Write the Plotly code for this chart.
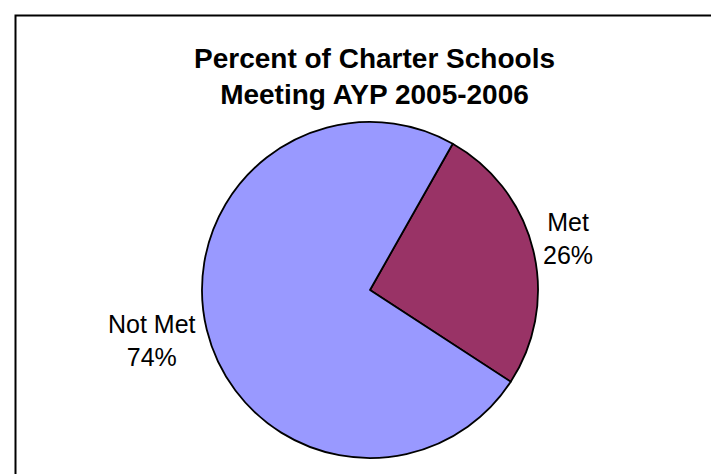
import plotly.graph_objects as go

labels = ["Met", "Not Met"]
values = [26, 74]
colors = ["#993366", "#9999FF"]
title_text = "Percent of Charter Schools<br>Meeting AYP 2005-2006"

W, H = 719, 474
FONT = "Liberation Sans, Arial"

# label centres in pixels (layout only)
label_pos = {"Met": (560, 230), "Not Met": (144, 332)}

fig = go.Figure(go.Pie(
    labels=labels,
    values=values,
    sort=False,
    direction="clockwise",
    rotation=29.5,
    marker=dict(colors=colors, line=dict(color="black", width=1.8)),
    textinfo="none",
    domain=dict(x=[194 / W, 530 / W], y=[1 - 450 / H, 1 - 114 / H]),
    showlegend=False,
    hoverinfo="label+percent",
))

total = sum(values)
annotations = []
for lab, val in zip(labels, values):
    px, py = label_pos[lab]
    annotations.append(dict(
        x=px / W, y=1 - py / H, xref="paper", yref="paper",
        xanchor="center", yanchor="middle", showarrow=False,
        text=f"{lab}<br>{round(100 * val / total)}%",
        font=dict(family=FONT, size=25, color="black"),
    ))

annotations.append(dict(
    x=366 / W, y=1 - 68.5 / H, xref="paper", yref="paper",
    xanchor="center", yanchor="middle", showarrow=False,
    text="<b>" + title_text + "</b>",
    font=dict(family=FONT, size=28, color="black"),
))

fig.update_layout(
    width=W, height=H,
    margin=dict(l=0, r=0, t=0, b=0),
    paper_bgcolor="white",
    plot_bgcolor="white",
    annotations=annotations,
    shapes=[dict(
        type="rect", xref="paper", yref="paper",
        x0=7.5 / W, x1=1.05, y0=-0.05, y1=1 - 7.5 / H,
        line=dict(color="black", width=2),
    )],
)

fig.write_html("out.html")
